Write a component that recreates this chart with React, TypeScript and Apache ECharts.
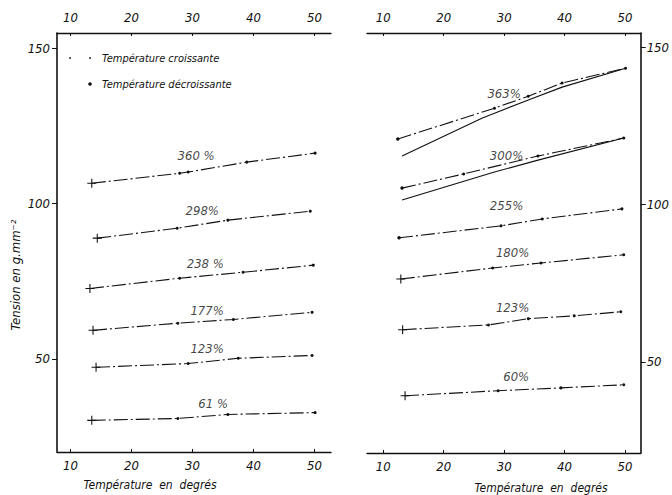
import React, { useEffect, useRef } from "react";
import * as echarts from "echarts";

// ---- data (Température °C, Tension g·mm⁻²) ----
const xTicks = [10, 20, 30, 40, 50];
const yTicks = [50, 100, 150];

// left panel
const L360 = [[13.5, 106.6], [27.9, 109.8], [29.3, 110.2], [38.9, 113.4], [50.1, 116.3]];
const L298 = [[14.4, 88.9], [27.5, 92.1], [35.8, 94.7], [49.3, 97.6]];
const L238 = [[13.2, 72.7], [27.9, 76.0], [38.3, 77.9], [49.8, 80.2]];
const L177 = [[13.7, 59.2], [27.6, 61.5], [36.7, 62.7], [49.6, 65.0]];
const L123 = [[14.2, 47.3], [29.3, 48.5], [37.5, 50.2], [49.6, 51.1]];
const L61 = [[13.5, 30.2], [27.6, 30.8], [35.8, 32.1], [50.1, 32.7]];

// right panel
const R363d = [[12.4, 120.8], [28.4, 130.6], [34.0, 134.4], [39.6, 138.6], [50.1, 143.3]];
const R363c = [[13.1, 115.4], [26.4, 127.5], [28.4, 129.0], [34.0, 133.2], [39.6, 137.3], [50.1, 143.3]];
const R300d = [[13.1, 105.2], [23.3, 109.7], [35.6, 115.4], [49.8, 121.1]];
const R300c = [[13.1, 101.4], [28.4, 110.3], [35.6, 114.1], [49.8, 121.1]];
const R255 = [[12.6, 89.4], [29.5, 93.2], [36.3, 95.4], [49.5, 98.6]];
const R180 = [[12.9, 76.3], [28.1, 79.8], [36.1, 81.4], [49.8, 84.0]];
const R123 = [[13.2, 60.2], [27.4, 61.7], [34.0, 63.7], [41.6, 64.6], [49.3, 65.9]];
const R60 = [[13.6, 39.2], [29.0, 40.8], [39.4, 41.7], [49.8, 42.7]];

const leftLabels = [
  { name: "360 %", value: [30.6, 115.6] },
  { name: "298%", value: [31.6, 97.9] },
  { name: "238 %", value: [32.1, 80.8] },
  { name: "177%", value: [32.4, 65.6] },
  { name: "123%", value: [32.4, 53.4] },
  { name: "61 %", value: [33.4, 35.6] },
];
const rightLabels = [
  { name: "363%", value: [30.0, 135.4] },
  { name: "300%", value: [30.4, 115.7] },
  { name: "255%", value: [30.4, 99.8] },
  { name: "180%", value: [31.4, 84.6] },
  { name: "123%", value: [31.4, 67.1] },
  { name: "60%", value: [32.0, 45.2] },
];

const FONT = "'DejaVu Sans Condensed', 'Liberation Sans Narrow', 'DejaVu Sans', sans-serif";
const INK = "#111";
const CROSS = "path://M0,4.4H10V5.6H0Z M4.4,0H5.6V10H4.4Z";

function curve(data: number[][], xi: number, yi: number, firstSym: string, marks = true) {
  return {
    type: "line",
    xAxisIndex: xi,
    yAxisIndex: yi,
    silent: true,
    showSymbol: marks,
    lineStyle: { color: INK, width: 1.1, type: marks ? [14, 3, 2, 3] : "solid" },
    itemStyle: { color: INK },
    data: data.map((d, i) =>
      marks
        ? {
            value: d,
            symbol: i === 0 ? firstSym : "circle",
            symbolSize: i === 0 ? (firstSym === CROSS ? 9 : 3.5) : 3,
          }
        : { value: d, symbol: "none" }
    ),
  };
}

function labels(data: any[], xi: number, yi: number) {
  return {
    type: "scatter",
    xAxisIndex: xi,
    yAxisIndex: yi,
    symbolSize: 0,
    silent: true,
    data,
    label: {
      show: true,
      position: "inside",
      formatter: "{b}",
      color: INK,
      fontSize: 13,
      fontStyle: "italic",
      fontFamily: FONT,
    },
  };
}

function xAxis(gi: number, pos: "top" | "bottom", min: number, max: number) {
  return {
    type: "value",
    gridIndex: gi,
    position: pos,
    min,
    max,
    axisLine: { show: true, lineStyle: { color: INK, width: 1.3 } },
    axisTick: { show: true, inside: true, length: 3, customValues: xTicks, lineStyle: { color: INK } },
    axisLabel: {
      customValues: xTicks,
      color: INK,
      fontSize: 13,
      fontStyle: "italic",
      fontFamily: FONT,
      margin: pos === "top" ? 9 : 7,
    },
    splitLine: { show: false },
  };
}

function yAxis(gi: number, pos: "left" | "right", min: number, max: number) {
  return {
    type: "value",
    gridIndex: gi,
    position: pos,
    min,
    max,
    axisLine: { show: true, lineStyle: { color: INK, width: 1.6 } },
    axisTick: { show: true, inside: false, length: 5, customValues: yTicks, lineStyle: { color: INK } },
    axisLabel: {
      customValues: yTicks,
      color: INK,
      fontSize: 13,
      fontStyle: "italic",
      fontFamily: FONT,
      margin: pos === "left" ? 7 : 6,
    },
    splitLine: { show: false },
  };
}

export default function App() {
  const ref = useRef<HTMLDivElement>(null);
  useEffect(() => {
    document.body.style.margin = "0";
    if (!ref.current) return;
    const chart = echarts.init(ref.current, null, { renderer: "svg" });
    chart.setOption({
      animation: false,
      backgroundColor: "#fff",
      grid: [
        { left: 57, top: 33, width: 274, height: 419 },
        { left: 367, top: 33, width: 275, height: 420 },
      ],
      xAxis: [
        xAxis(0, "bottom", 7.8, 52.7),
        xAxis(0, "top", 7.8, 52.7),
        xAxis(1, "bottom", 7.3, 52.6),
        xAxis(1, "top", 7.3, 52.6),
      ],
      yAxis: [yAxis(0, "left", 20, 155), yAxis(1, "right", 21, 154.5)],
      graphic: [
        {
          type: "text",
          x: 15,
          y: 275,
          rotation: Math.PI / 2,
          style: {
            text: "Tension en g.mm⁻²",
            fill: INK,
            font: `italic 13px ${FONT}`,
            align: "center",
            verticalAlign: "middle",
          },
        },
        {
          type: "text",
          x: 150,
          y: 485,
          style: {
            text: "Température  en  degrés",
            fill: INK,
            font: `italic 12px ${FONT}`,
            align: "center",
            verticalAlign: "middle",
          },
        },
        {
          type: "text",
          x: 541,
          y: 488,
          style: {
            text: "Température  en  degrés",
            fill: INK,
            font: `italic 12px ${FONT}`,
            align: "center",
            verticalAlign: "middle",
          },
        },
        { type: "circle", shape: { cx: 70, cy: 58, r: 0.9 }, style: { fill: INK } },
        { type: "circle", shape: { cx: 90, cy: 58, r: 0.9 }, style: { fill: INK } },
        {
          type: "text",
          x: 102,
          y: 58,
          style: {
            text: "Température croissante",
            fill: INK,
            font: `italic 11px ${FONT}`,
            verticalAlign: "middle",
          },
        },
        { type: "circle", shape: { cx: 90, cy: 84, r: 1.8 }, style: { fill: INK } },
        {
          type: "text",
          x: 102,
          y: 84,
          style: {
            text: "Température décroissante",
            fill: INK,
            font: `italic 11px ${FONT}`,
            verticalAlign: "middle",
          },
        },
      ],
      series: [
        curve(L360, 0, 0, CROSS),
        curve(L298, 0, 0, CROSS),
        curve(L238, 0, 0, CROSS),
        curve(L177, 0, 0, CROSS),
        curve(L123, 0, 0, CROSS),
        curve(L61, 0, 0, CROSS),
        curve(R363d, 2, 1, "circle"),
        curve(R363c, 2, 1, "none", false),
        curve(R300d, 2, 1, "circle"),
        curve(R300c, 2, 1, "none", false),
        curve(R255, 2, 1, "circle"),
        curve(R180, 2, 1, CROSS),
        curve(R123, 2, 1, CROSS),
        curve(R60, 2, 1, CROSS),
        labels(leftLabels, 0, 0),
        labels(rightLabels, 2, 1),
      ],
    });
    return () => chart.dispose();
  }, []);
  return <div ref={ref} style={{ width: 672, height: 495 }} />;
}
